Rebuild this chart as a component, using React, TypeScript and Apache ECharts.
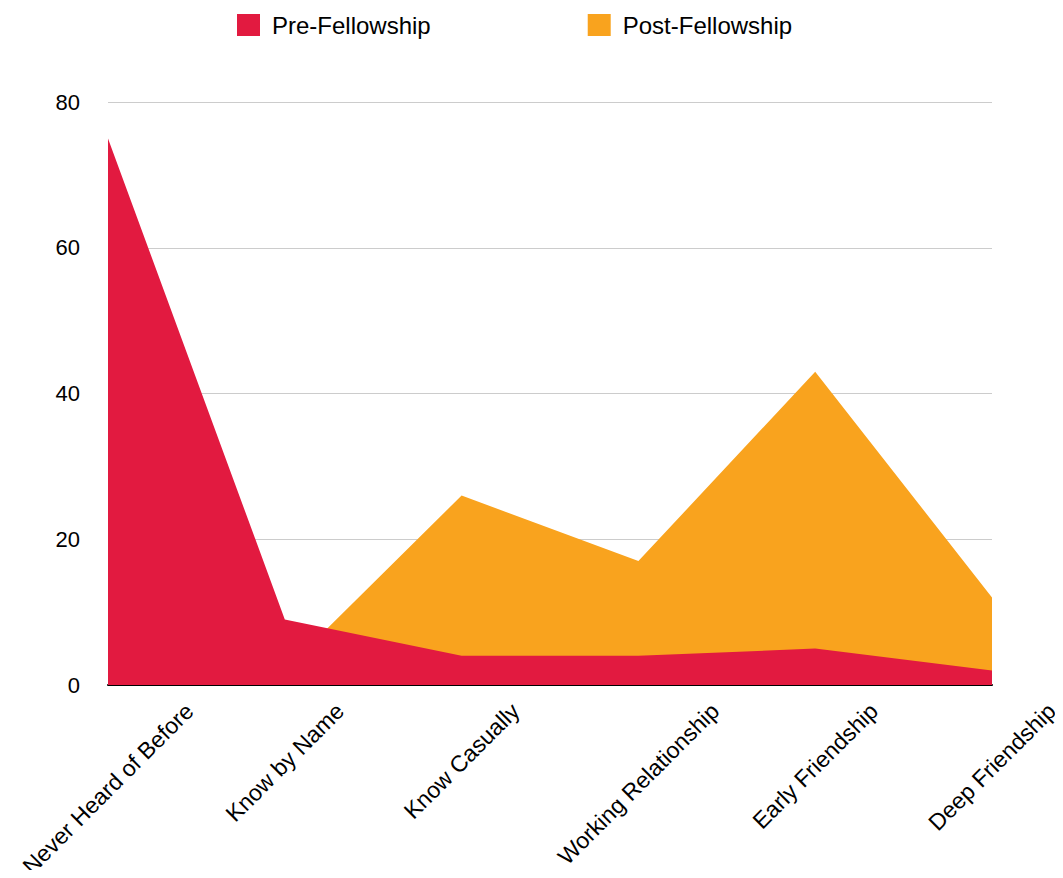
import React, { useEffect, useRef } from 'react';
import * as echarts from 'echarts';

const categories = [
  'Never Heard of Before',
  'Know by Name',
  'Know Casually',
  'Working Relationship',
  'Early Friendship',
  'Deep Friendship',
];
const preValues = [75, 9, 4, 4, 5, 2];
const postValues = [0, 2, 26, 17, 43, 12];
const yTicks = [0, 20, 40, 60, 80];

const FONT = "'Liberation Sans', Arial, Helvetica, sans-serif";
const LABEL_SIZE = 23;

export default function App() {
  const ref = useRef<HTMLDivElement>(null);

  useEffect(() => {
    if (!ref.current) return;
    const chart = echarts.init(ref.current, undefined, { renderer: 'svg' });

    const canvas = document.createElement('canvas');
    const ctx = canvas.getContext('2d')!;
    ctx.font = `${LABEL_SIZE}px ${FONT}`;
    const axisY = 677; // relative to chart div
    const margin = 8;
    const topY = 691;
    const h = LABEL_SIZE;
    const rich: Record<string, any> = {};
    categories.forEach((c, i) => {
      const w = ctx.measureText(c).width;
      const D = topY + (w + h) * 0.3536 - axisY - margin;
      const p = Math.max(0, 1.4142 * D);
      rich['l' + i] = {
        fontFamily: FONT,
        fontSize: LABEL_SIZE,
        lineHeight: LABEL_SIZE,
        color: '#000',
        padding: [p, p, 0, 0],
      };
    });

    chart.setOption({
      animation: false,
      legend: {
        data: ['Pre-Fellowship', 'Post-Fellowship'],
        left: 229,
        top: 5,
        padding: 0,
        itemWidth: 23,
        itemHeight: 22,
        itemGap: 157,
        icon: 'rect',
        textStyle: { fontFamily: FONT, fontSize: 24, color: '#000', padding: [0, 0, 0, 7] },
      },
      grid: { left: 100, right: 63, top: 94, bottom: 185, outerBoundsMode: 'none', containLabel: false },
      xAxis: {
        type: 'category',
        boundaryGap: false,
        data: categories,
        axisLine: { show: true, lineStyle: { color: '#000', width: 2 } },
        axisTick: { show: false },
        axisLabel: {
          interval: 0,
          rotate: 45,
          align: 'center',
          verticalAlign: 'middle',
          margin: margin,
          fontFamily: FONT,
          fontSize: LABEL_SIZE,
          color: '#000',
          formatter: (v: string, i: number) => `{l${i}|${v}}`,
          rich,
        },
      },
      yAxis: {
        type: 'value',
        min: yTicks[0],
        max: yTicks[yTicks.length - 1],
        interval: yTicks[1] - yTicks[0],
        axisLine: { show: false },
        axisTick: { show: false },
        splitLine: { lineStyle: { color: '#cccccc', width: 1 } },
        axisLabel: { margin: 28, fontFamily: FONT, fontSize: 22, color: '#000' },
      },
      series: [
        {
          name: 'Post-Fellowship',
          type: 'line',
          data: postValues,
          symbol: 'none',
          lineStyle: { width: 0 },
          itemStyle: { color: '#F9A31E' },
          areaStyle: { color: '#F9A31E', opacity: 1 },
          z: 2,
        },
        {
          name: 'Pre-Fellowship',
          type: 'line',
          data: preValues,
          symbol: 'none',
          lineStyle: { width: 0 },
          itemStyle: { color: '#E21A40' },
          areaStyle: { color: '#E21A40', opacity: 1 },
          z: 3,
        },
      ],
    });

    return () => chart.dispose();
  }, []);

  return <div ref={ref} style={{ width: 1047, height: 862 }} />;
}
